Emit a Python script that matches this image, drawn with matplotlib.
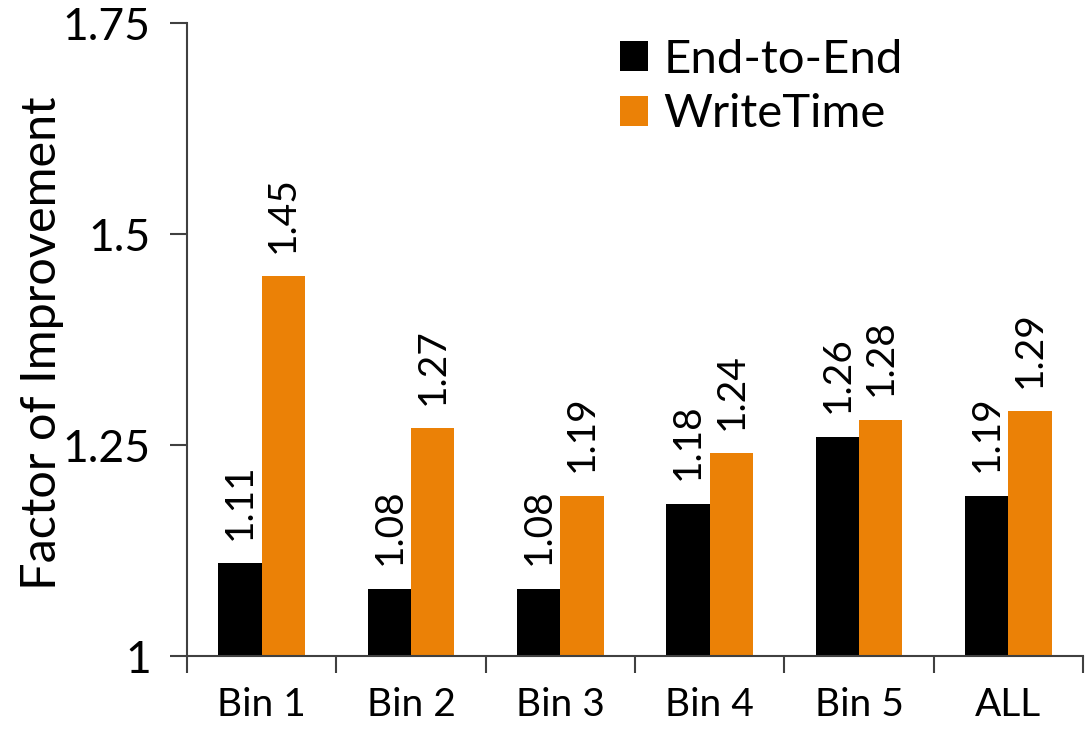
import numpy as np
import matplotlib
matplotlib.use("Agg")
from matplotlib import pyplot as plt
from matplotlib.ticker import FuncFormatter

# data
categories = ["Bin 1", "Bin 2", "Bin 3", "Bin 4", "Bin 5", "ALL"]
end_to_end = [1.11, 1.08, 1.08, 1.18, 1.26, 1.19]
write_time = [1.45, 1.27, 1.19, 1.24, 1.28, 1.29]
series_names = ["End-to-End", "WriteTime"]
y_ticks = [1.0, 1.25, 1.5, 1.75]

BLACK = "#000000"
ORANGE = "#EB8106"
AXIS_GREY = "#404040"

plt.rcParams["font.family"] = ["Lato", "DejaVu Sans"]

fig = plt.figure(figsize=(10.92, 7.29), dpi=100)
ax = fig.add_axes([0.1712, 0.1001, 0.8206, 0.8683])

x = np.arange(len(categories))
w = 0.29
ax.bar(x - w / 2, np.array(end_to_end) - 1, w, bottom=1, color=BLACK,
       label=series_names[0])
ax.bar(x + w / 2, np.array(write_time) - 1, w, bottom=1, color=ORANGE,
       label=series_names[1])

# value labels, rotated above each bar
for xs, vals in ((x - w / 2, end_to_end), (x + w / 2, write_time)):
	for xi, v in zip(xs, vals):
		ax.annotate("%.2f" % v, (xi, v), xytext=(0, 17), textcoords="offset points",
		            rotation=90, ha="center", va="bottom", fontsize=28)

ax.set_xlim(-0.5, len(categories) - 0.5)
ax.set_ylim(1.0, 1.75)

ax.set_xticks(x)
ax.set_xticklabels(categories, fontsize=28)
ax.set_xticks(np.arange(len(categories) + 1) - 0.5, minor=True)
ax.tick_params(axis="x", which="major", length=0, pad=22)
ax.tick_params(axis="x", which="minor", length=12, width=1.5, color=AXIS_GREY, direction="out")

ax.set_yticks(y_ticks)
ax.yaxis.set_major_formatter(FuncFormatter(lambda v, p: ("%.2f" % v).rstrip("0").rstrip(".")))
ax.tick_params(axis="y", length=12, width=1.5, color=AXIS_GREY, direction="out",
               pad=14, labelsize=32)

for s in ("top", "right"):
	ax.spines[s].set_visible(False)
for s in ("left", "bottom"):
	ax.spines[s].set_color(AXIS_GREY)
	ax.spines[s].set_linewidth(1.5)

ax.set_ylabel("Factor of Improvement", fontsize=35)
ax.yaxis.set_label_coords(-0.137, 0.494)

leg = ax.legend(loc="upper left", bbox_to_anchor=(0.457, 1.012), frameon=False,
                fontsize=34, handlelength=0.6, handleheight=0.6,
                handletextpad=0.32, labelspacing=0.26, borderpad=0)

fig.savefig("out.png", dpi=100)
